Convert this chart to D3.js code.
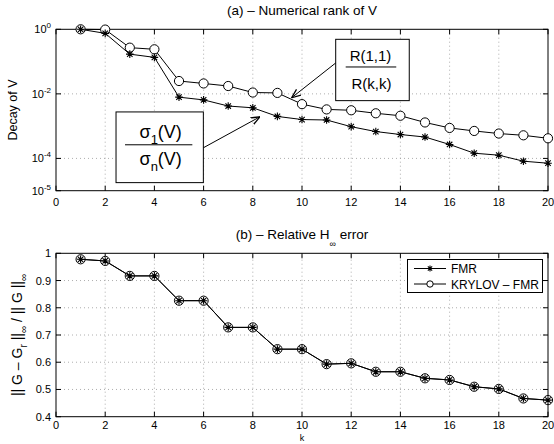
<!DOCTYPE html>
<html><head><meta charset="utf-8">
<script src="https://cdn.jsdelivr.net/npm/d3@7"></script>
<style>
body{margin:0;background:#fff;}
text{font-family:"Liberation Sans",Arial,sans-serif;fill:#000;}
</style></head>
<body>
<svg id="c" width="554" height="444"></svg>
<script>
const ks = [1,2,3,4,5,6,7,8,9,10,11,12,13,14,15,16,17,18,19,20];
const fmrDecay = [1,0.75,0.17,0.135,0.0079,0.0065,0.0042,0.0037,0.0020,0.0016,0.00155,0.00096,0.00068,0.00055,0.00046,0.00027,0.000145,0.000126,0.000082,0.000071];
const krylovDecay = [1,0.98,0.27,0.24,0.025,0.021,0.0175,0.011,0.0107,0.0048,0.0033,0.0031,0.0025,0.0021,0.0013,0.00088,0.00071,0.00059,0.00052,0.00042];
const fmrErr = [0.978,0.972,0.917,0.917,0.826,0.826,0.728,0.728,0.648,0.648,0.593,0.596,0.565,0.565,0.541,0.535,0.51,0.502,0.467,0.461];
const krylovErr = [0.978,0.972,0.917,0.917,0.826,0.826,0.728,0.728,0.648,0.648,0.593,0.596,0.565,0.565,0.541,0.535,0.51,0.502,0.467,0.461];
const xTicks = [0,2,4,6,8,10,12,14,16,18,20];
const topYTicks = [1,1e-2,1e-4,1e-5];
const topYExp = ["0","-2","-4","-5"];
const botYTicks = [0.4,0.5,0.6,0.7,0.8,0.9,1];
const botYLabels = ["0.4","0.5","0.6","0.7","0.8","0.9","1"];
const legendLabels = ["FMR","KRYLOV \u2013 FMR"];

const svg = d3.select("#c");
const L = 56, R = 548;
const x = d3.scaleLinear().domain([0,20]).range([L,R]);
const yTop = d3.scaleLog().domain([1e-5,1]).range([190.7,29.3]);
const yBot = d3.scaleLinear().domain([0.4,1]).range([416.7,253.3]);

function starPath(cx,cy,s){
  const d = s*0.72;
  return `M${cx-s},${cy}L${cx+s},${cy}M${cx},${cy-s}L${cx},${cy+s}M${cx-d},${cy-d}L${cx+d},${cy+d}M${cx-d},${cy+d}L${cx+d},${cy-d}`;
}

function panel(y, y0, y1, yTickVals, yTickFmt, xLabOff){
  const g = svg.append("g");
  xTicks.forEach(t=>{
    if(t>0 && t<20) g.append("line").attr("x1",x(t)).attr("x2",x(t)).attr("y1",y0).attr("y2",y1)
      .attr("stroke","#999").attr("stroke-width",0.8).attr("stroke-dasharray","1,3");
  });
  yTickVals.forEach(t=>{
    const yy = y(t);
    if(Math.abs(yy-y0)>1 && Math.abs(yy-y1)>1) g.append("line").attr("x1",L).attr("x2",R).attr("y1",yy).attr("y2",yy)
      .attr("stroke","#999").attr("stroke-width",0.8).attr("stroke-dasharray","1,3");
  });
  g.append("rect").attr("x",L).attr("y",y1).attr("width",R-L).attr("height",y0-y1)
    .attr("fill","none").attr("stroke","#000").attr("stroke-width",1);
  xTicks.forEach(t=>{
    g.append("line").attr("x1",x(t)).attr("x2",x(t)).attr("y1",y0).attr("y2",y0-5).attr("stroke","#000");
    g.append("line").attr("x1",x(t)).attr("x2",x(t)).attr("y1",y1).attr("y2",y1+5).attr("stroke","#000");
    g.append("text").attr("x",x(t)).attr("y",y0+xLabOff).attr("text-anchor","middle").attr("font-size",11).text(t);
  });
  yTickVals.forEach((t,i)=>{
    const yy=y(t);
    g.append("line").attr("x1",L).attr("x2",L+5).attr("y1",yy).attr("y2",yy).attr("stroke","#000");
    g.append("line").attr("x1",R).attr("x2",R-5).attr("y1",yy).attr("y2",yy).attr("stroke","#000");
    yTickFmt(g,t,i,yy);
  });
  return g;
}

function series(g, y, vals, type){
  const line = d3.line().x((d,i)=>x(ks[i])).y(d=>y(d));
  g.append("path").attr("d",line(vals)).attr("fill","none").attr("stroke","#000").attr("stroke-width",1);
  vals.forEach((v,i)=>{
    if(type==="star") g.append("path").attr("d",starPath(x(ks[i]),y(v),3.8)).attr("stroke","#000").attr("stroke-width",1.1);
    else g.append("circle").attr("cx",x(ks[i])).attr("cy",y(v)).attr("r",4.6).attr("fill","#fff").attr("stroke","#000").attr("stroke-width",1);
  });
}

// ---------- Top panel ----------
const gT = panel(yTop,190.7,29.3,topYTicks,(g,t,i,yy)=>{
  const tx = g.append("text").attr("x",51).attr("y",yy+4).attr("text-anchor","end").attr("font-size",11);
  tx.append("tspan").text("10");
  tx.append("tspan").attr("dy",-5).attr("font-size",8).text(topYExp[i]);
}, 15.5);
series(gT,yTop,krylovDecay,"circle");
series(gT,yTop,fmrDecay,"star");

svg.append("text").attr("x",302).attr("y",15).attr("text-anchor","middle").attr("font-size",13.5).text("(a) \u2013  Numerical rank of V");
svg.append("text").attr("transform","translate(17,110) rotate(-90)").attr("text-anchor","middle").attr("font-size",12.5).text("Decay of V");

svg.append("defs").append("marker").attr("id","ah").attr("viewBox","0 0 10 10").attr("refX",10).attr("refY",5)
  .attr("markerWidth",9).attr("markerHeight",9).attr("markerUnits","userSpaceOnUse").attr("orient","auto")
  .append("path").attr("d","M0,1L10,5L0,9").attr("fill","none").attr("stroke","#000").attr("stroke-width",1.4);

const a1 = {k0:2.44,k1:5.99,v0:Math.pow(10,-2.56),v1:Math.pow(10,-4.75),tipK:8.29,tipV:Math.pow(10,-2.71)};
(function(){
  const bx0=x(a1.k0), bx1=x(a1.k1), by0=yTop(a1.v0), by1=yTop(a1.v1);
  svg.append("rect").attr("x",bx0).attr("y",by0).attr("width",bx1-bx0).attr("height",by1-by0).attr("fill","#fff").attr("stroke","#000");
  const my=(by0+by1)/2 - 2.5;
  svg.append("line").attr("x1",bx0+9).attr("x2",bx1-11).attr("y1",my).attr("y2",my).attr("stroke","#000");
  const cx=(bx0+bx1)/2+1;
  const t1=svg.append("text").attr("x",cx).attr("y",my-7).attr("text-anchor","middle").attr("font-size",18);
  t1.append("tspan").text("\u03c3");
  t1.append("tspan").attr("dy",6).attr("font-size",13).text("1");
  t1.append("tspan").attr("dy",-6).text("(V)");
  const t2=svg.append("text").attr("x",cx).attr("y",my+20).attr("text-anchor","middle").attr("font-size",18);
  t2.append("tspan").text("\u03c3");
  t2.append("tspan").attr("dy",6).attr("font-size",13).text("n");
  t2.append("tspan").attr("dy",-6).text("(V)");
  svg.append("line").attr("x1",bx1).attr("y1",my+3).attr("x2",x(a1.tipK)).attr("y2",yTop(a1.tipV)).attr("stroke","#000").attr("marker-end","url(#ah)");
})();
const a2 = {k0:11.37,k1:14.36,v0:Math.pow(10,-0.31),v1:Math.pow(10,-2.21),tipK:9.58,tipV:Math.pow(10,-2.12)};
(function(){
  const bx0=x(a2.k0), bx1=x(a2.k1), by0=yTop(a2.v0), by1=yTop(a2.v1);
  svg.append("rect").attr("x",bx0).attr("y",by0).attr("width",bx1-bx0).attr("height",by1-by0).attr("fill","#fff").attr("stroke","#000");
  const my=(by0+by1)/2-3;
  svg.append("line").attr("x1",bx0+10).attr("x2",bx1-13).attr("y1",my).attr("y2",my).attr("stroke","#000");
  const cx=(bx0+bx1)/2-2;
  svg.append("text").attr("x",cx).attr("y",my-6).attr("text-anchor","middle").attr("font-size",15).text("R(1,1)");
  svg.append("text").attr("x",cx+1).attr("y",my+22).attr("text-anchor","middle").attr("font-size",15).text("R(k,k)");
  svg.append("line").attr("x1",bx0).attr("y1",my-4).attr("x2",x(a2.tipK)).attr("y2",yTop(a2.tipV)).attr("stroke","#000").attr("marker-end","url(#ah)");
})();

// ---------- Bottom panel ----------
const gB = panel(yBot,416.7,253.3,botYTicks,(g,t,i,yy)=>{
  g.append("text").attr("x",51).attr("y",yy+4).attr("text-anchor","end").attr("font-size",11).text(botYLabels[i]);
}, 12.5);
series(gB,yBot,krylovErr,"circle");
series(gB,yBot,fmrErr,"star");

const tb = svg.append("text").attr("x",302).attr("y",239).attr("text-anchor","middle").attr("font-size",13.5);
tb.append("tspan").text("(b) \u2013 Relative H");
tb.append("tspan").attr("dy",8).attr("font-size",9).text("\u221e");
tb.append("tspan").attr("dy",-8).text(" error");

svg.append("text").attr("x",302).attr("y",441).attr("text-anchor","middle").attr("font-size",9).text("k");

const yl = svg.append("text").attr("transform","translate(22,335) rotate(-90)").attr("text-anchor","middle").attr("font-size",14);
yl.append("tspan").text("|| G \u2013 G");
yl.append("tspan").attr("dy",5).attr("font-size",10).text("r");
yl.append("tspan").attr("dy",-5).text(" ||");
yl.append("tspan").attr("dy",5).attr("font-size",10).text("\u221e");
yl.append("tspan").attr("dy",-5).text(" / || G ||");
yl.append("tspan").attr("dy",5).attr("font-size",10).text("\u221e");

const lg = svg.append("g");
lg.append("rect").attr("x",407.5).attr("y",259.5).attr("width",135).attr("height",33).attr("fill","#fff").attr("stroke","#000");
legendLabels.forEach((lab,i)=>{
  const yy = 268.5 + i*15.5;
  lg.append("line").attr("x1",414).attr("x2",446).attr("y1",yy).attr("y2",yy).attr("stroke","#000");
  if(i===0) lg.append("path").attr("d",starPath(430,yy,3)).attr("stroke","#000").attr("stroke-width",1.1);
  else lg.append("circle").attr("cx",430).attr("cy",yy).attr("r",3.2).attr("fill","#fff").attr("stroke","#000");
  lg.append("text").attr("x",451).attr("y",yy+4.5).attr("font-size",12).text(lab);
});
</script>
</body></html>
